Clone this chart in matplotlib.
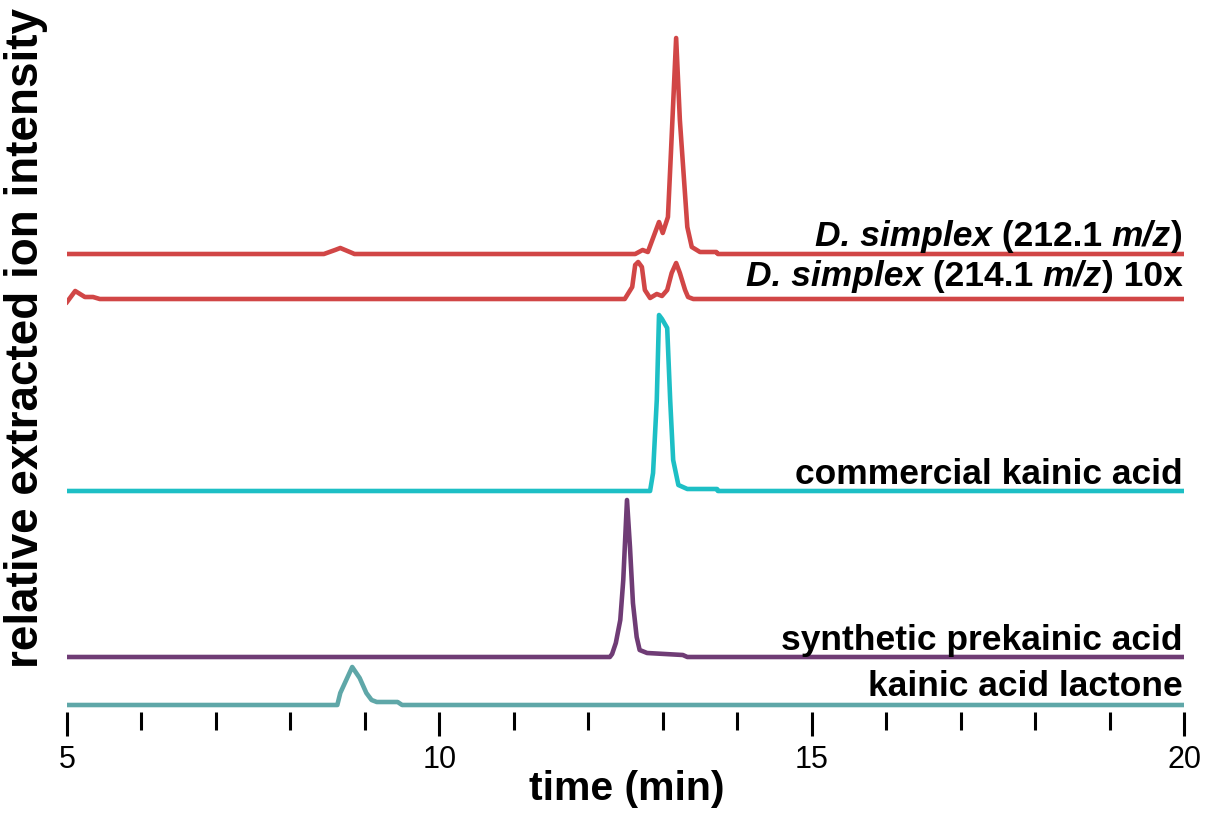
import matplotlib
matplotlib.use('Agg')
import matplotlib.pyplot as plt

# extracted ion chromatograms, time (min) vs relative intensity above each trace baseline
t_212 = [5.0, 8.45, 8.60, 8.67, 8.83, 8.86, 12.63, 12.73, 12.80, 12.86, 12.95, 13.00,
         13.07, 13.11, 13.18, 13.23, 13.33, 13.39, 13.50, 13.72, 13.74, 20.0]
i_212 = [0, 0, 4, 6, 1, 0, 0, 4, 2, 14, 32, 21, 37, 101, 216, 134, 27, 7, 2, 2, 0, 0]

t_214 = [5.0, 5.03, 5.11, 5.24, 5.35, 5.44, 12.49, 12.59, 12.63, 12.67, 12.72, 12.76,
         12.83, 12.92, 12.99, 13.06, 13.12, 13.18, 13.23, 13.30, 13.34, 13.41, 20.0]
i_214 = [-3, 0, 8, 2, 2, 0, 0, 12, 34, 37, 32, 9, 1, 5, 3, 9, 26, 36, 26, 9, 2, 0, 0]

t_com = [5.0, 12.83, 12.87, 12.92, 12.95, 12.99, 13.06, 13.10, 13.14, 13.21, 13.33,
         13.73, 13.74, 20.0]
i_com = [0, 0, 18, 91, 176, 172, 163, 91, 31, 6, 2, 2, 0, 0]

t_syn = [5.0, 12.29, 12.32, 12.37, 12.43, 12.47, 12.52, 12.56, 12.60, 12.65, 12.69,
         12.79, 13.27, 13.33, 20.0]
i_syn = [0, 0, 3, 14, 37, 77, 157, 110, 54, 20, 7, 4, 2, 0, 0]

t_lac = [5.0, 8.63, 8.67, 8.83, 8.93, 9.02, 9.09, 9.16, 9.44, 9.50, 20.0]
i_lac = [0, 0, 12, 38, 27, 12, 5, 3, 3, 0, 0]

# label pieces: (text, italic?)
labels = [[('D. simplex', True), (' (212.1 ', False), ('m/z', True), (')', False)],
          [('D. simplex', True), (' (214.1 ', False), ('m/z', True), (') 10x', False)],
          [('commercial kainic acid', False)],
          [('synthetic prekainic acid', False)],
          [('kainic acid lactone', False)]]
offsets = [451, 406, 214, 48, 0]
colors = ['#d14646', '#d14646', '#1dbfc5', '#6f3c75', '#5fa7a8']
label_gap = [8, 13, 7, 7, 9]

plt.rcParams['font.family'] = 'Liberation Sans'

fig = plt.figure(figsize=(12.07, 8.13), dpi=100)
ax = fig.add_axes([67 / 1207, 1 - 712 / 813, (1184 - 67) / 1207, (712 - 30) / 813])

traces = [(t_212, i_212), (t_214, i_214), (t_com, i_com), (t_syn, i_syn), (t_lac, i_lac)]
for (t, i), off, c, pieces, gap in zip(traces, offsets, colors, labels, label_gap):
    ax.plot(t, [v + off for v in i], color=c, lw=3.3, solid_joinstyle='round')
    # right-aligned label built from right to left so styles can mix
    prev = None
    for txt, it in reversed(pieces):
        style = 'italic' if it else 'normal'
        if prev is None:
            prev = ax.text(19.98, off + gap, txt, ha='right', va='baseline',
                           fontsize=25.5, fontweight='bold', fontstyle=style)
        else:
            prev = ax.annotate(txt, xy=(0, 0), xycoords=prev, ha='right', va='bottom',
                               fontsize=25.5, fontweight='bold', fontstyle=style)

ax.set_xlim(5, 20)
ax.set_ylim(-7, 675)
for s in ax.spines.values():
    s.set_visible(False)
ax.set_yticks([])
ax.set_xticks([5, 10, 15, 20])
ax.set_xticks(range(5, 21), minor=True)
ax.tick_params(axis='x', which='major', length=17.5, width=2.2, labelsize=22, pad=6)
ax.tick_params(axis='x', which='minor', length=13, width=2.2)

fig.text(627 / 1207, 1 - 789 / 813, 'time (min)', ha='center', va='center',
         fontsize=29.5, fontweight='bold')
fig.text(26 / 1207, 1 - 338 / 813, 'relative extracted ion intensity', ha='center',
         va='center', rotation=90, fontsize=33, fontweight='bold')

fig.savefig('out.png', dpi=100)
